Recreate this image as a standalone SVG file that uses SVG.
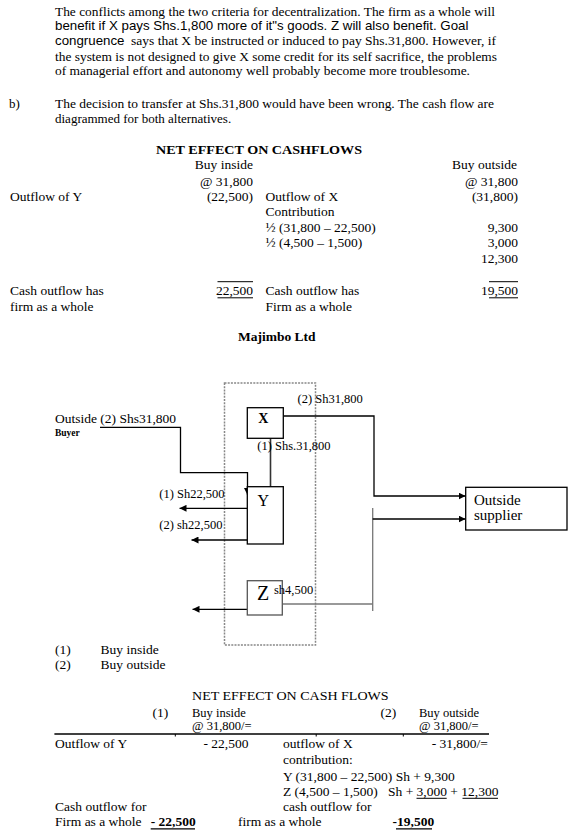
<svg xmlns="http://www.w3.org/2000/svg" width="577" height="838" viewBox="0 0 577 838">
<style>
text{font-family:"Liberation Serif","Times New Roman",serif;fill:#000;}
.p{font-size:13px;}
.a{font-family:"Liberation Sans",Arial,sans-serif;font-size:13.3px;}
.t{font-size:13.5px;}
.h{font-size:12.5px;}
.r{text-anchor:end;}
.b{font-weight:bold;}
.lbl{font-size:12.5px;}
.ln{stroke:#000;stroke-width:1.3;fill:none;}
.gl{stroke:#777;stroke-width:1.3;fill:none;}
.box{fill:#fff;stroke:#000;stroke-width:1.3;}
.ul{stroke:#000;stroke-width:1;}
</style>
<defs>
<marker id="ah" viewBox="0 0 10 10" refX="10" refY="5" markerWidth="7" markerHeight="7" markerUnits="userSpaceOnUse" orient="auto">
<path d="M0,0 L10,5 L0,10 Z" fill="#000"/>
</marker>
</defs>
<rect width="577" height="838" fill="#fff"/>

<!-- paragraph -->
<text class="p" x="55" y="15.7" textLength="440" lengthAdjust="spacingAndGlyphs">The conflicts among the two criteria for decentralization. The firm as a whole will</text>
<text class="a" x="55" y="29.5">benefit if X pays Shs.1,800 more of it"s goods. Z will also benefit. Goal</text>
<text class="a" x="55" y="45.3">congruence</text>
<text class="p" x="131" y="45.3" textLength="365" lengthAdjust="spacingAndGlyphs">says that X be instructed or induced to pay Shs.31,800. However, if</text>
<text class="p" x="55" y="60.8" textLength="442" lengthAdjust="spacingAndGlyphs">the system is not designed to give X some credit for its self sacrifice, the problems</text>
<text class="p" x="55" y="75.3" textLength="415" lengthAdjust="spacingAndGlyphs">of managerial effort and autonomy well probably become more troublesome.</text>

<text class="p" x="9" y="108.3">b)</text>
<text class="p" x="55" y="108.3" textLength="439" lengthAdjust="spacingAndGlyphs">The decision to transfer at Shs.31,800 would have been wrong. The cash flow are</text>
<text class="p" x="55" y="123.3">diagrammed for both alternatives.</text>

<!-- top table -->
<text class="t b" x="156" y="154" textLength="206" lengthAdjust="spacingAndGlyphs">NET EFFECT ON CASHFLOWS</text>
<text class="t r" x="253" y="169">Buy inside</text>
<text class="t r" x="517" y="169">Buy outside</text>
<text class="t r" x="253" y="185.5">@ 31,800</text>
<text class="t r" x="518" y="185.5">@ 31,800</text>
<text class="t" x="10" y="201">Outflow of Y</text>
<text class="t r" x="253" y="201">(22,500)</text>
<text class="t" x="265.5" y="201">Outflow of X</text>
<text class="t r" x="518" y="201">(31,800)</text>
<text class="t" x="265.5" y="216">Contribution</text>
<text class="t" x="265.5" y="231.7">½ (31,800 – 22,500)</text>
<text class="t r" x="518" y="231.7">9,300</text>
<text class="t" x="265.5" y="247.3">½ (4,500 – 1,500)</text>
<text class="t r" x="518" y="247.3">3,000</text>
<text class="t r" x="518" y="263.3">12,300</text>
<line class="ul" x1="217.5" y1="281.7" x2="253" y2="281.7"/>
<line class="ul" x1="489" y1="281.7" x2="518" y2="281.7"/>
<text class="t" x="10" y="295">Cash outflow has</text>
<text class="t r" x="253" y="295">22,500</text>
<line class="ul" x1="217.5" y1="297.8" x2="253" y2="297.8"/>
<text class="t" x="265.5" y="295">Cash outflow has</text>
<text class="t r" x="518" y="295">19,500</text>
<line class="ul" x1="489" y1="297.8" x2="518" y2="297.8"/>
<text class="t" x="10" y="311">firm as a whole</text>
<text class="t" x="265.5" y="311">Firm as a whole</text>

<text class="t b" x="238" y="341">Majimbo Ltd</text>

<!-- diagram -->
<g id="boundary">
<rect x="224.5" y="383" width="91" height="262" fill="none" stroke="#888" stroke-width="1.5" stroke-dasharray="2,1.2"/>
</g>

<g id="connectors">
<path class="ln" d="M283.3,416 H374 V496 H465.5" marker-end="url(#ah)"/>
<path d="M270.5,438.3 V495" stroke="#333" stroke-width="1.6" fill="none" marker-end="url(#ah)"/>
<path class="ln" d="M100,427.3 H180.5 V472.7 H247.5 V495" marker-end="url(#ah)"/>
<path class="ln" d="M247.3,508.3 H179.5" marker-end="url(#ah)"/>
<path class="ln" d="M247.3,540 H191.5" marker-end="url(#ah)"/>
<path class="ln" d="M247.3,609.3 H192.5" marker-end="url(#ah)"/>
<path class="gl" d="M282.3,604 H372.7"/>
<path class="gl" d="M372.7,508 V611"/>
<path class="ln" d="M372.7,519 H465.5" marker-end="url(#ah)"/>
</g>

<g id="node-X">
<rect class="box" x="247.3" y="407.7" width="36" height="30.6"/>
<text class="b" x="263.3" y="422.5" font-size="14" text-anchor="middle">X</text>
</g>
<g id="node-Y">
<rect class="box" x="247.3" y="486.7" width="36" height="57.3" fill="none"/>
<text x="263.3" y="506" font-size="16" text-anchor="middle">Y</text>
</g>
<g id="node-Z">
<rect x="247.3" y="580.7" width="35" height="34.3" fill="#fff" stroke="#555" stroke-width="1.3"/>
<text x="263" y="599.5" font-size="20" text-anchor="middle">Z</text>
</g>
<g id="node-supplier">
<rect class="box" x="465.7" y="487.3" width="101.3" height="42.7"/>
<text x="474" y="505" font-size="15">Outside</text>
<text x="474" y="519.5" font-size="15">supplier</text>
</g>
<g id="node-buyer">
<text class="t" x="55" y="422.7">Outside (2) Shs31,800</text>
<text class="b" x="55" y="435.5" font-size="9.5">Buyer</text>
</g>

<g id="labels">
<text class="lbl" x="297.5" y="403.3">(2) Sh31,800</text>
<text class="lbl" x="257.3" y="450">(1) Shs.31,800</text>
<text class="lbl" x="159.3" y="498.3">(1) Sh22,500</text>
<text class="lbl" x="159.3" y="529.3">(2) sh22,500</text>
<text class="lbl" x="274" y="594">sh4,500</text>
</g>

<!-- legend -->
<text class="t" x="55" y="654.3">(1)</text>
<text class="t" x="100.5" y="654.3">Buy inside</text>
<text class="t" x="55" y="669">(2)</text>
<text class="t" x="100.5" y="669">Buy outside</text>

<!-- bottom table -->
<text class="t" x="192" y="700" textLength="196.6" lengthAdjust="spacingAndGlyphs">NET EFFECT ON CASH FLOWS</text>
<text class="t" x="152.5" y="716.5">(1)</text>
<text class="h" x="192" y="716.5">Buy inside</text>
<text class="t" x="380.5" y="716.5">(2)</text>
<text class="h" x="419" y="716.5">Buy outside</text>
<text class="h" x="192" y="730">@ 31,800/=</text>
<text class="h" x="419" y="730">@ 31,800/=</text>
<line x1="54.4" y1="734" x2="489" y2="734" stroke="#000" stroke-width="1.6"/>
<line x1="175.3" y1="734" x2="175.3" y2="736.5" stroke="#000" stroke-width="1"/>
<line x1="316.2" y1="734" x2="316.2" y2="736.5" stroke="#000" stroke-width="1"/>
<line x1="403.3" y1="734" x2="403.3" y2="736.5" stroke="#000" stroke-width="1"/>
<text class="t" x="55" y="747.7">Outflow of Y</text>
<text class="t r" x="248.5" y="747.7">- 22,500</text>
<text class="t" x="283" y="747.7">outflow of X</text>
<text class="t r" x="488" y="747.7">- 31,800/=</text>
<text class="t" x="283" y="764">contribution:</text>
<text class="t" x="283" y="780.7">Y (31,800 – 22,500) Sh + 9,300</text>
<text class="t" x="283" y="795.7">Z (4,500 – 1,500)</text>
<text class="t" x="388" y="795.7">Sh + 3,000 + 12,300</text>
<line class="ul" x1="416.5" y1="798.3" x2="446.7" y2="798.3"/>
<line class="ul" x1="462.5" y1="798.3" x2="498" y2="798.3"/>
<text class="t" x="55" y="811">Cash outflow for</text>
<text class="t" x="283" y="811">cash outflow for</text>
<text class="t" x="55" y="826">Firm as a whole</text>
<text class="t b" x="150.7" y="826">- 22,500</text>
<line x1="150.7" y1="828.8" x2="195" y2="828.8" stroke="#000" stroke-width="1.3"/>
<text class="t" x="238" y="826">firm as a whole</text>
<text class="t b" x="392.6" y="826">-19,500</text>
<line x1="396" y1="828.8" x2="432" y2="828.8" stroke="#000" stroke-width="1.3"/>
</svg>
